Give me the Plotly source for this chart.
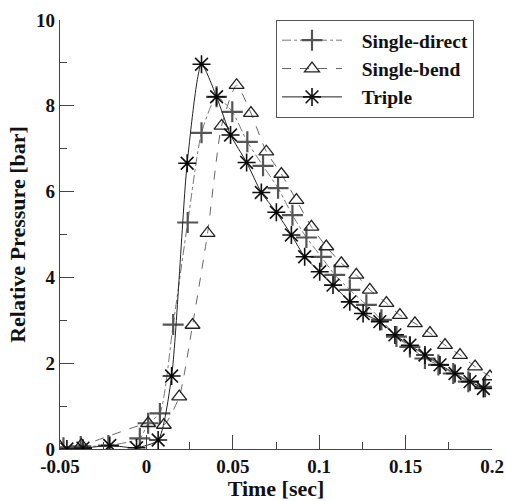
import plotly.graph_objects as go

# ---- data ----
triple_t = [-0.046, -0.0367, -0.0212, -0.0057, 0.0068, 0.0146, 0.0236, 0.0319, 0.0406, 0.0487, 0.058,
            0.0665, 0.0752, 0.0839, 0.0916, 0.1003, 0.108, 0.1177, 0.1254, 0.1351, 0.1438, 0.1525,
            0.1612, 0.1699, 0.1786, 0.1873, 0.195]
triple_p = [0.0, 0.02, 0.08, 0.03, 0.21, 1.70, 6.66, 8.97, 8.21, 7.32, 6.68,
            5.98, 5.52, 4.99, 4.48, 4.13, 3.82, 3.43, 3.16, 2.97, 2.66, 2.42,
            2.19, 1.96, 1.76, 1.57, 1.41]

direct_t = [-0.048, -0.038, -0.022, -0.0038, 0.001, 0.0078, 0.0155, 0.0239, 0.0319, 0.0406, 0.0497,
            0.0584, 0.0675, 0.0762, 0.0845, 0.0926, 0.1012, 0.109, 0.1177, 0.1273, 0.136, 0.1447,
            0.1525, 0.1612, 0.169, 0.1776, 0.1863, 0.196]
direct_p = [0.03, 0.06, 0.08, 0.25, 0.6, 0.83, 2.90, 5.28, 7.37, 8.21, 7.86,
            7.16, 6.60, 6.08, 5.45, 4.93, 4.48, 4.06, 3.71, 3.36, 3.01, 2.62,
            2.38, 2.11, 1.96, 1.76, 1.57, 1.45]

bend_t = [-0.05, -0.0376, 0.001, 0.0101, 0.019, 0.0267, 0.0354, 0.0435, 0.0522, 0.0605, 0.0694,
          0.0781, 0.0868, 0.0955, 0.1041, 0.1128, 0.1215, 0.1293, 0.1389, 0.1467, 0.1554,
          0.1641, 0.1728, 0.1815, 0.1902, 0.1988]
bend_p = [0.05, 0.09, 0.6, 0.56, 1.22, 2.89, 5.03, 7.53, 8.48, 7.83, 6.93,
          6.41, 5.80, 5.18, 4.72, 4.33, 4.06, 3.71, 3.40, 3.12, 2.93,
          2.70, 2.42, 2.19, 1.92, 1.69]

x_tickvals = [-0.05, 0, 0.05, 0.1, 0.15, 0.2]
x_ticktext = ["-0.05", "0", "0.05", "0.1", "0.15", "0.2"]
y_tickvals = [0, 2, 4, 6, 8, 10]
y_ticktext = ["0", "2", "4", "6", "8", "10"]

FONT = "Liberation Serif"
PAD = "\u00a0\u00a0\u00a0"

fig = go.Figure()
fig.add_trace(go.Scatter(
    x=direct_t, y=direct_p, name=PAD + "<b>Single-direct</b>", mode="lines+markers",
    line=dict(color="#777777", width=1, dash="dashdot", shape="spline", smoothing=0.6),
    marker=dict(symbol="cross-thin", size=15, line=dict(color="#555555", width=2.2))))
fig.add_trace(go.Scatter(
    x=bend_t, y=bend_p, name=PAD + "<b>Single-bend</b>", mode="lines+markers",
    line=dict(color="#666666", width=1, dash="dash", shape="spline", smoothing=0.6),
    marker=dict(symbol="triangle-up-open", size=13, color="#222222", line=dict(width=1.3))))
fig.add_trace(go.Scatter(
    x=triple_t, y=triple_p, name=PAD + "<b>Triple</b>", mode="lines+markers",
    line=dict(color="#222222", width=1, shape="spline", smoothing=0.6),
    marker=dict(symbol="asterisk-open", size=15, color="#111111", line=dict(color="#111111", width=1.6))))
fig.add_trace(go.Scatter(
    x=triple_t, y=triple_p, mode="markers", showlegend=False, hoverinfo="skip",
    marker=dict(symbol="circle", size=3, color="#000000")))

axis_common = dict(
    showline=True, linecolor="#444444", linewidth=1.2, mirror=False,
    ticks="inside", ticklen=14, tickcolor="#444444", tickwidth=1,
    showgrid=False, zeroline=False, automargin=False,
    tickfont=dict(family=FONT, size=19, color="#111111"),
)

fig.update_layout(
    width=506, height=501,
    margin=dict(l=60, r=14, t=20, b=52),
    paper_bgcolor="white", plot_bgcolor="white",
    font=dict(family=FONT, color="#111111"),
    xaxis=dict(range=[-0.05, 0.2], tickvals=x_tickvals, ticktext=["<b>%s</b>" % t for t in x_ticktext],
               minor=dict(dtick=0.025, tick0=0, ticks="inside", ticklen=7, tickcolor="#444444"),
               title=dict(text="<b>Time [sec]</b>", font=dict(family=FONT, size=22), standoff=2),
               **axis_common),
    yaxis=dict(range=[0, 10], tickvals=y_tickvals, ticktext=["<b>%s</b>" % t for t in y_ticktext],
               minor=dict(dtick=1, tick0=0, ticks="inside", ticklen=7, tickcolor="#444444"),
               title=dict(text="<b>Relative Pressure [bar]</b>", font=dict(family=FONT, size=22), standoff=4),
               **axis_common),
    legend=dict(x=0.5, y=1.0, xanchor="left", yanchor="top",
                bordercolor="#555555", borderwidth=1, bgcolor="white",
                font=dict(family=FONT, size=19.5, color="#111111"),
                itemwidth=60, tracegroupgap=0),
    showlegend=True,
)

fig.write_html("out.html", config={"displayModeBar": False},
               post_script="document.body.style.margin='0px';document.body.style.overflow='hidden';")
